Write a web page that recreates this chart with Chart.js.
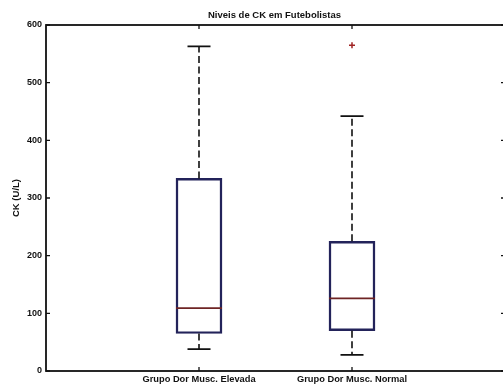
<!DOCTYPE html>
<html>
<head>
<meta charset="utf-8">
<script src="https://cdn.jsdelivr.net/npm/chart.js@4.4.1/dist/chart.umd.min.js"></script>
<style>
html,body{margin:0;padding:0;background:#fff;overflow:hidden;}
#wrap{width:503px;height:385px;overflow:hidden;}
</style>
</head>
<body>
<div id="wrap"><canvas id="c" width="506" height="385"></canvas></div>
<script>
const chartTitle = 'Niveis de CK em Futebolistas';
const categories = ['Grupo Dor Musc. Elevada', 'Grupo Dor Musc. Normal'];
const whiskerLow = [38, 28];
const q1 = [65, 70];
const median = [109, 126];
const q3 = [334, 225];
const whiskerHigh = [563, 442];
const outliers = [[], [565]];
const yTicks = [0, 100, 200, 300, 400, 500, 600];

const boxData = categories.map((c, i) => ({ x: i + 1, y: [q1[i], q3[i]] }));
const outlierData = [];
outliers.forEach((arr, i) => arr.forEach(v => outlierData.push({ x: i + 1, y: v })));

const fontFam = '"Liberation Sans", Arial, sans-serif';

const boxPlugin = {
  id: 'boxExtras',
  afterDatasetsDraw(chart) {
    const ctx = chart.ctx;
    const xs = chart.scales.x, ys = chart.scales.y;
    const ca = chart.chartArea;
    const halfBox = 23;
    const halfCap = 11.5;
    ctx.save();
    categories.forEach((c, i) => {
      const cx = xs.getPixelForValue(i + 1);
      ctx.strokeStyle = '#111';
      ctx.lineWidth = 1.6;
      ctx.setLineDash([7, 3.5]);
      ctx.beginPath();
      ctx.moveTo(cx, ys.getPixelForValue(q3[i]));
      ctx.lineTo(cx, ys.getPixelForValue(whiskerHigh[i]));
      ctx.moveTo(cx, ys.getPixelForValue(q1[i]));
      ctx.lineTo(cx, ys.getPixelForValue(whiskerLow[i]));
      ctx.stroke();
      ctx.setLineDash([]);
      ctx.beginPath();
      [whiskerHigh[i], whiskerLow[i]].forEach(v => {
        const py = ys.getPixelForValue(v);
        ctx.moveTo(cx - halfCap, py);
        ctx.lineTo(cx + halfCap, py);
      });
      ctx.stroke();
      ctx.strokeStyle = '#6e2424';
      ctx.lineWidth = 1.6;
      ctx.beginPath();
      const my = ys.getPixelForValue(median[i]);
      ctx.moveTo(cx - halfBox, my);
      ctx.lineTo(cx + halfBox, my);
      ctx.stroke();
    });
    ctx.strokeStyle = '#111';
    ctx.lineWidth = 1.8;
    ctx.strokeRect(ca.left, ca.top, ca.right - ca.left, ca.bottom - ca.top);
    ctx.lineWidth = 1.3;
    ctx.beginPath();
    ys.ticks.forEach(t => {
      const py = ys.getPixelForValue(t.value);
      ctx.moveTo(ca.left, py); ctx.lineTo(ca.left + 4, py);
      ctx.moveTo(ca.right, py); ctx.lineTo(ca.right - 4, py);
    });
    xs.ticks.forEach(t => {
      const px = xs.getPixelForValue(t.value);
      ctx.moveTo(px, ca.top); ctx.lineTo(px, ca.top + 4);
      ctx.moveTo(px, ca.bottom); ctx.lineTo(px, ca.bottom - 4);
    });
    ctx.stroke();
    ctx.fillStyle = '#111';
    ctx.font = 'bold 9.5px ' + fontFam;
    ctx.textAlign = 'center';
    ctx.textBaseline = 'middle';
    ctx.fillText(chartTitle, (ca.left + ca.right) / 2 - 1, ca.top - 10);
    ctx.restore();
  }
};

new Chart(document.getElementById('c'), {
  type: 'bar',
  data: {
    datasets: [
      {
        type: 'bar',
        data: boxData,
        backgroundColor: 'rgba(0,0,0,0)',
        borderColor: '#23235a',
        borderWidth: 1.8,
        borderSkipped: false,
        barThickness: 46
      },
      {
        type: 'scatter',
        data: outlierData,
        pointStyle: 'cross',
        pointRadius: 3,
        borderColor: '#a02323',
        borderWidth: 1.5,
        backgroundColor: '#a02323'
      }
    ]
  },
  options: {
    responsive: false,
    animation: false,
    devicePixelRatio: 1,
    layout: { autoPadding: false, padding: { left: 0, right: 1, top: 25, bottom: 0 } },
    plugins: {
      legend: { display: false },
      tooltip: { enabled: false },
      title: { display: false }
    },
    scales: {
      x: {
        type: 'linear',
        min: 0,
        max: 3,
        offset: false,
        afterBuildTicks: s => { s.ticks = categories.map((c, i) => ({ value: i + 1 })); },
        afterFit: s => { s.height = 14; },
        grid: { display: false, drawTicks: false, offset: false },
        border: { display: false },
        ticks: {
          padding: 3,
          autoSkip: false,
          maxRotation: 0,
          color: '#111',
          font: { family: fontFam, size: 9.3, weight: 'bold' },
          callback: v => categories[v - 1] || ''
        }
      },
      y: {
        min: 0,
        max: 600,
        afterBuildTicks: s => { s.ticks = yTicks.map(v => ({ value: v })); },
        afterFit: s => { s.width = 46; },
        grid: { display: false, drawTicks: false },
        border: { display: false },
        ticks: {
          padding: 4,
          color: '#111',
          font: { family: fontFam, size: 9, weight: 'bold' }
        },
        title: {
          display: true,
          text: 'CK (U/L)',
          color: '#111',
          font: { family: fontFam, size: 9.5, weight: 'bold' },
          padding: { top: 10.5, bottom: 0 }
        }
      }
    }
  },
  plugins: [boxPlugin]
});
</script>
</body>
</html>
